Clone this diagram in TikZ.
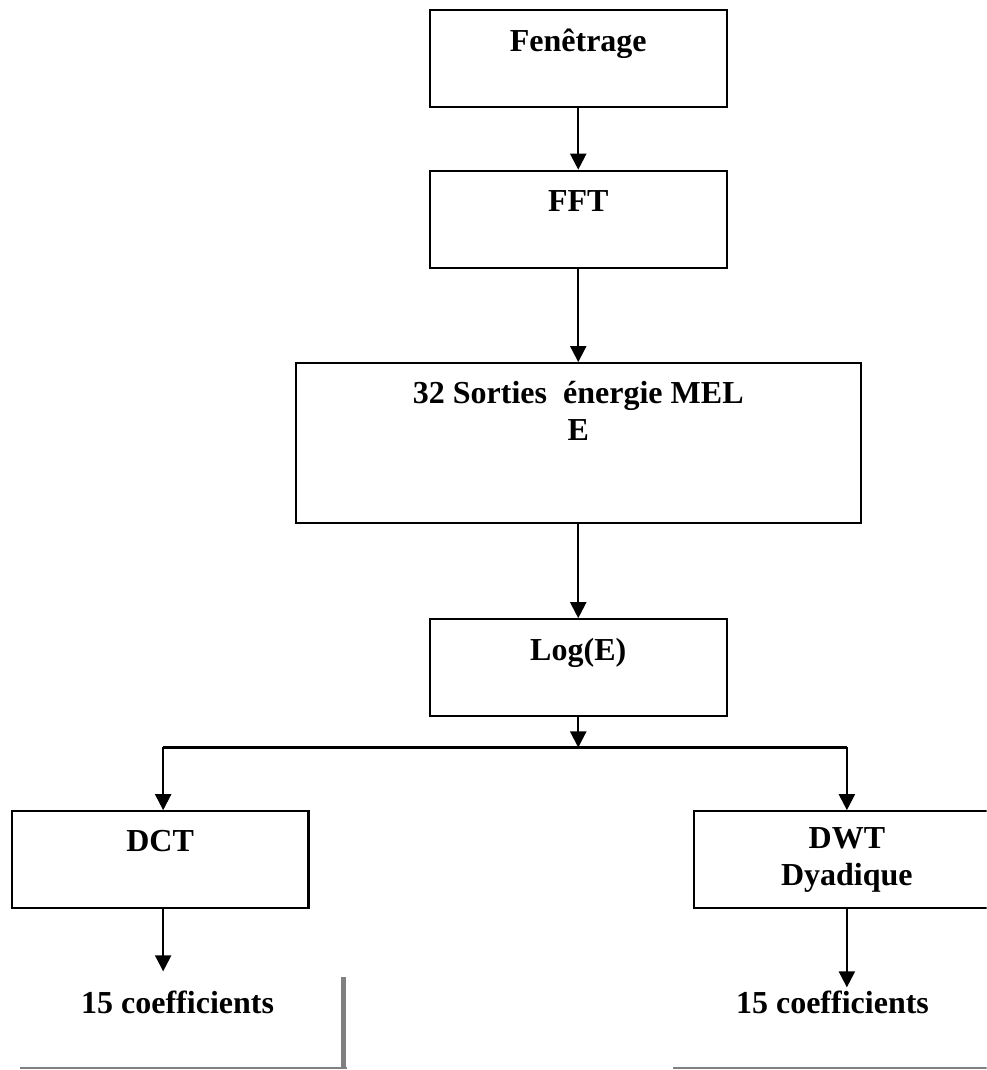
\documentclass[tikz,border=0pt]{standalone}
\usepackage{fontspec}
\setmainfont{Liberation Serif}
\usepackage{xcolor}
\usepackage{tikz}
\usetikzlibrary{arrows.meta,positioning,calc}

\begin{document}
\begin{tikzpicture}[
    every node/.style={font=\fontsize{12}{14}\selectfont\bfseries},
    box/.style={draw, line width=0.8pt, align=center, inner sep=2pt, minimum width=3.91cm, minimum height=1.28cm},
    coef/.style={inner sep=1pt, anchor=base},
    link/.style={line width=0.8pt},
    arr/.style={-{Triangle[length=6pt,width=6pt]}, line width=0.8pt},
    frame/.style={draw=gray, line width=0.75pt}
]
\useasboundingbox (0,0) rectangle (13.0,-14.1);
\clip (0,0) rectangle (13.0,-14.1);
\node[box] (fen) at (7.62,-0.77) {Fenêtrage\\\mbox{}};
\node[box] (fft) at (7.62,-2.89) {FFT\\\mbox{}};
\node[box, minimum width=7.45cm, minimum height=2.11cm] (mel) at (7.62,-5.84) {32 Sorties \ énergie MEL\\E\\[10pt]\mbox{}};
\node[box] (logE) at (7.62,-8.80) {Log(E)\\\mbox{}};
\node[box] (dct) at (2.11,-11.33) {DCT\\\mbox{}};
\node[box, minimum width=4.03cm] (dwt) at (11.16,-11.33) {DWT\\Dyadique};
\node[coef] (dctcoef) at (2.34,-13.35) {15 coefficients};
\node[coef] (dwtcoef) at (10.97,-13.35) {15 coefficients};
\coordinate (lsplit) at (2.15,-9.85);
\coordinate (rsplit) at (11.16,-9.85);
\draw[arr] (fen) -- (fft);
\draw[arr] (fft) -- (mel);
\draw[arr] (mel) -- (logE);
\draw[arr] (logE.south) -- (logE.south |- lsplit);
\draw[link] (lsplit) -- (rsplit);
\draw[arr] (lsplit) -- (lsplit |- dct.north);
\draw[arr] (rsplit) -- (dwt.north);
\draw[arr] (dct.south -| lsplit) -- ([yshift=6pt]lsplit |- dctcoef.north);
\draw[arr] (dwt.south) -- (dwt.south |- dwtcoef.north);
% bits of the page frame
\draw[frame] (0.26,-14.08) -- (4.57,-14.08);
\draw[frame, line width=1.9pt] (4.53,-12.88) -- (4.53,-14.09);
\draw[frame] (8.87,-14.08) -- (13.0,-14.08);
\end{tikzpicture}
\end{document}
